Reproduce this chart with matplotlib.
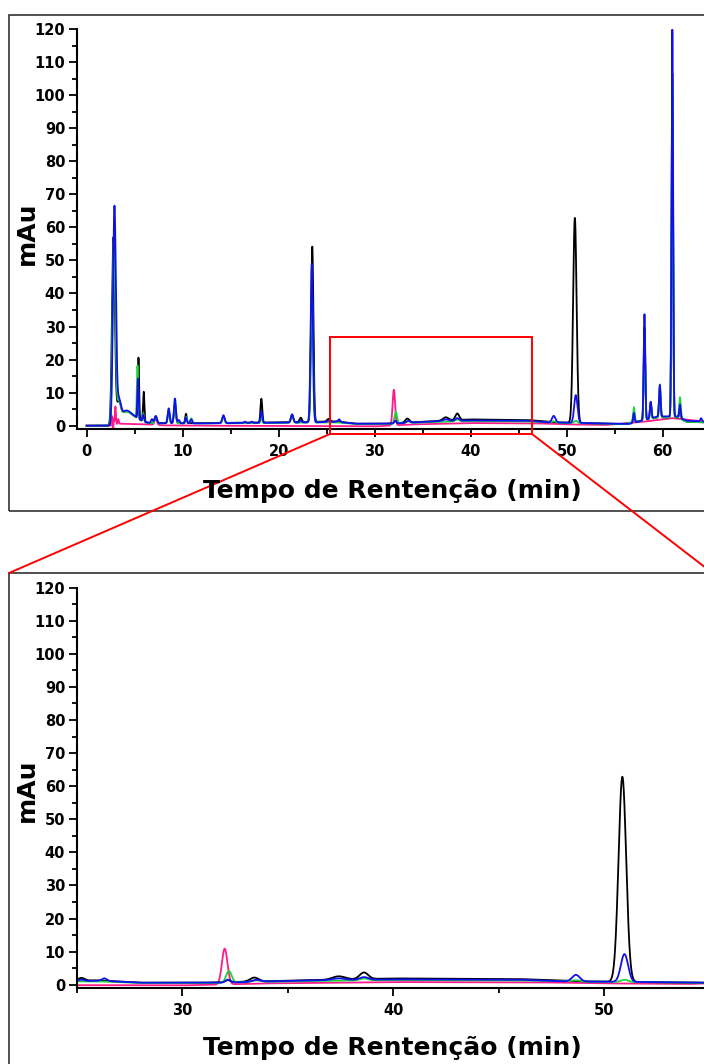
import numpy as np
import matplotlib
matplotlib.use("Agg")
import matplotlib.pyplot as plt
from matplotlib.patches import Rectangle
from matplotlib.lines import Line2D
from matplotlib.font_manager import FontProperties
from matplotlib.ticker import MultipleLocator

# ---- chromatogram peak tables: (retention time [min], height [mAu], sigma [min]) ----
black_peaks = [
    (2.8, 56.0, 0.15), (3.35, 5.5, 0.20), (4.0, 2.5, 0.50), (4.8, 1.8, 0.70),
    (5.40, 18.5, 0.065), (5.95, 9.0, 0.07), (7.2, 2.0, 0.12), (8.55, 3.5, 0.10),
    (9.2, 5.5, 0.10), (10.35, 2.8, 0.08), (14.25, 2.0, 0.12), (18.2, 7.2, 0.09),
    (21.4, 2.2, 0.12), (22.3, 1.3, 0.12), (23.5, 53.0, 0.12), (25.2, 0.8, 0.15),
    (32.15, 0.6, 0.12), (33.4, 1.2, 0.20), (37.4, 1.0, 0.30), (38.6, 2.0, 0.20),
    (50.85, 62.0, 0.18), (57.0, 2.5, 0.08), (58.1, 28.0, 0.08), (58.75, 5.0, 0.08),
    (59.7, 9.0, 0.08), (61.0, 104.0, 0.08), (61.8, 3.0, 0.08),
]
green_peaks = [
    (2.85, 55.0, 0.15), (3.35, 5.5, 0.20), (4.0, 2.5, 0.50), (4.8, 1.8, 0.70),
    (5.30, 16.0, 0.065), (5.9, 2.5, 0.08), (7.2, 2.0, 0.12), (8.55, 4.0, 0.10),
    (9.2, 6.5, 0.10), (10.4, 2.0, 0.08), (10.9, 1.5, 0.10), (14.25, 2.0, 0.12),
    (18.2, 1.5, 0.09), (21.4, 2.2, 0.12), (23.45, 40.0, 0.12), (32.2, 3.5, 0.13),
    (33.5, 0.5, 0.20), (38.6, 0.6, 0.20), (48.65, 0.4, 0.20), (50.95, 0.7, 0.17),
    (57.0, 4.5, 0.08), (58.1, 24.0, 0.08), (58.75, 4.0, 0.08), (59.7, 10.0, 0.08),
    (61.0, 100.0, 0.08), (61.8, 6.5, 0.08),
]
blue_peaks = [
    (2.9, 65.0, 0.15), (3.35, 6.0, 0.20), (4.0, 2.7, 0.50), (4.8, 1.9, 0.70),
    (5.35, 12.0, 0.065), (5.9, 2.0, 0.08), (6.8, 1.2, 0.10), (7.2, 2.2, 0.12),
    (8.55, 4.5, 0.10), (9.2, 7.5, 0.10), (9.6, 1.0, 0.10), (10.35, 1.8, 0.08),
    (10.9, 1.2, 0.10), (14.25, 2.4, 0.12), (16.5, 0.4, 0.10), (17.2, 0.4, 0.10),
    (18.2, 3.5, 0.09), (21.4, 2.5, 0.12), (22.3, 0.6, 0.12), (23.45, 48.0, 0.12),
    (25.2, 0.4, 0.15), (26.3, 0.8, 0.12), (32.15, 0.9, 0.12), (33.5, 0.6, 0.20),
    (37.4, 0.5, 0.30), (38.6, 0.8, 0.20), (48.65, 2.0, 0.18), (50.95, 8.4, 0.17),
    (57.0, 3.0, 0.08), (58.1, 32.0, 0.08), (58.75, 5.0, 0.08), (59.7, 9.5, 0.08),
    (61.0, 117.0, 0.08), (61.8, 4.0, 0.08), (64.0, 1.0, 0.08),
]
pink_peaks = [
    (2.6, 3.0, 0.04), (2.75, -1.5, 0.03), (2.85, 2.0, 0.03), (3.0, 5.5, 0.05),
    (3.3, 1.5, 0.06), (7.2, 2.0, 0.12), (32.0, 10.8, 0.13),
]

# ---- baseline levels (time [min], mAu) ----
black_base = [(0, 0), (2.4, 0), (2.6, 0.8), (12, 0.8), (20, 1.0), (24, 1.2), (26, 1.3),
              (28, 0.6), (31, 0.6), (35, 1.2), (40, 1.9), (46, 1.7), (49, 1.0),
              (53, 0.7), (56, 0.5), (59.5, 2.5), (61.5, 2.5), (62.5, 1.2), (64.5, 1.0)]
green_base = [(0, 0), (2.4, 0), (2.6, 0.7), (12, 0.7), (20, 0.8), (24, 1.0), (26, 1.0),
              (28, 0.5), (31, 0.5), (35, 1.0), (40, 1.4), (46, 1.3), (49, 0.9),
              (53, 0.7), (56, 0.5), (59.5, 2.5), (61.5, 2.5), (62.5, 1.2), (64.5, 1.0)]
blue_base = [(0, 0), (2.4, 0), (2.6, 0.8), (12, 0.7), (20, 0.9), (24, 1.0), (26, 1.2),
             (28, 0.6), (32, 0.6), (36, 1.3), (40, 1.6), (46, 1.5), (48, 1.0),
             (52, 0.8), (55, 0.6), (56.5, 0.5), (59.5, 2.8), (61.5, 2.8), (62.5, 1.5),
             (64.5, 1.2)]
pink_base = [(0, 0), (2.4, 0), (3.5, 0.6), (7, 0.3), (8, 0.1), (12, 0.0), (30, -0.2),
             (31.5, 0.0), (34, 0.4), (40, 0.8), (47, 0.7), (50, 0.4), (54, 0.2),
             (58, 1.2), (61, 2.3), (64.5, 1.2)]

series = [
    ("pink", pink_peaks, pink_base, "#ff1a8c"),
    ("black", black_peaks, black_base, "#000000"),
    ("green", green_peaks, green_base, "#1ed43a"),
    ("blue", blue_peaks, blue_base, "#1010ee"),
]

t = np.arange(0, 64.5, 0.004)


def trace(peaks, base):
    bt, bv = zip(*base)
    y = np.interp(t, bt, bv)
    for rt, h, s in peaks:
        y = y + h * np.exp(-0.5 * ((t - rt) / s) ** 2)
    return y


W, H = 704, 1064
fig = plt.figure(figsize=(W / 100, H / 100), dpi=100)


def fx(px):
    return px / W


def fy(py):
    return 1 - py / H


tick_fp = FontProperties(family="DejaVu Sans", weight="bold", size=10.5)
label_font = dict(family="DejaVu Sans", weight="bold", size=18)


def style_axes(ax, xlim, xticks):
    ax.set_xlim(*xlim)
    ax.set_ylim(-1, 120)
    for side in ("top", "right"):
        ax.spines[side].set_visible(False)
    for side in ("left", "bottom"):
        ax.spines[side].set_linewidth(1.5)
    ax.set_xticks(xticks)
    ax.xaxis.set_minor_locator(MultipleLocator(5))
    ax.yaxis.set_major_locator(MultipleLocator(10))
    ax.yaxis.set_minor_locator(MultipleLocator(5))
    ax.tick_params(which="major", direction="out", length=6, width=1.3)
    ax.tick_params(which="minor", direction="out", length=3.5, width=1.3)
    ax.tick_params(axis="x", which="major", pad=5)
    ax.tick_params(axis="y", which="major", pad=2.5)
    for lab in ax.get_xticklabels() + ax.get_yticklabels():
        lab.set_fontproperties(tick_fp)
    ax.patch.set_alpha(0)


# panel layout (pixels)
ax_left, ax_right = 77, 704
top_ax = fig.add_axes([fx(ax_left), fy(429), fx(ax_right) - fx(ax_left), fy(29) - fy(429)])
bot_ax = fig.add_axes([fx(ax_left), fy(988), fx(ax_right) - fx(ax_left), fy(587.7) - fy(988)])

for ax in (top_ax, bot_ax):
    for name, peaks, base, color in series:
        ax.plot(t, trace(peaks, base), color=color, lw=1.3, solid_joinstyle="round")

style_axes(top_ax, (-1.0, 64.3), [0, 10, 20, 30, 40, 50, 60])
style_axes(bot_ax, (25.0, 54.72), [30, 40, 50])

# axis titles
for base_y in (498, 1055):
    fig.text(fx(392), fy(base_y), "Tempo de Rentenção (min)", ha="center",
             va="baseline", **label_font)
for cy in (233, 790):
    fig.text(fx(27), fy(cy), "mAu", rotation=90, ha="center", va="center", **label_font)

# panel frames
for top_px, bot_px in ((15, 511), (573, 1100)):
    fig.add_artist(Rectangle((fx(9), fy(bot_px)), fx(760) - fx(9), fy(top_px) - fy(bot_px),
                             transform=fig.transFigure, fill=False, ec="#333333", lw=1.2))

# zoom region marker and connectors
zx0, zx1, zy0, zy1 = 25.35, 46.4, -2.5, 26.8
top_ax.add_patch(Rectangle((zx0, zy0), zx1 - zx0, zy1 - zy0, fill=False, ec="#ff0000",
                           lw=1.4, clip_on=False, zorder=5))
fig.add_artist(Line2D([fx(330), fx(9)], [fy(434), fy(573)], transform=fig.transFigure,
                      color="#ff0000", lw=1.4))
fig.add_artist(Line2D([fx(532), fx(704)], [fy(434), fy(566.5)], transform=fig.transFigure,
                      color="#ff0000", lw=1.4))

fig.savefig("out.png", dpi=100)
